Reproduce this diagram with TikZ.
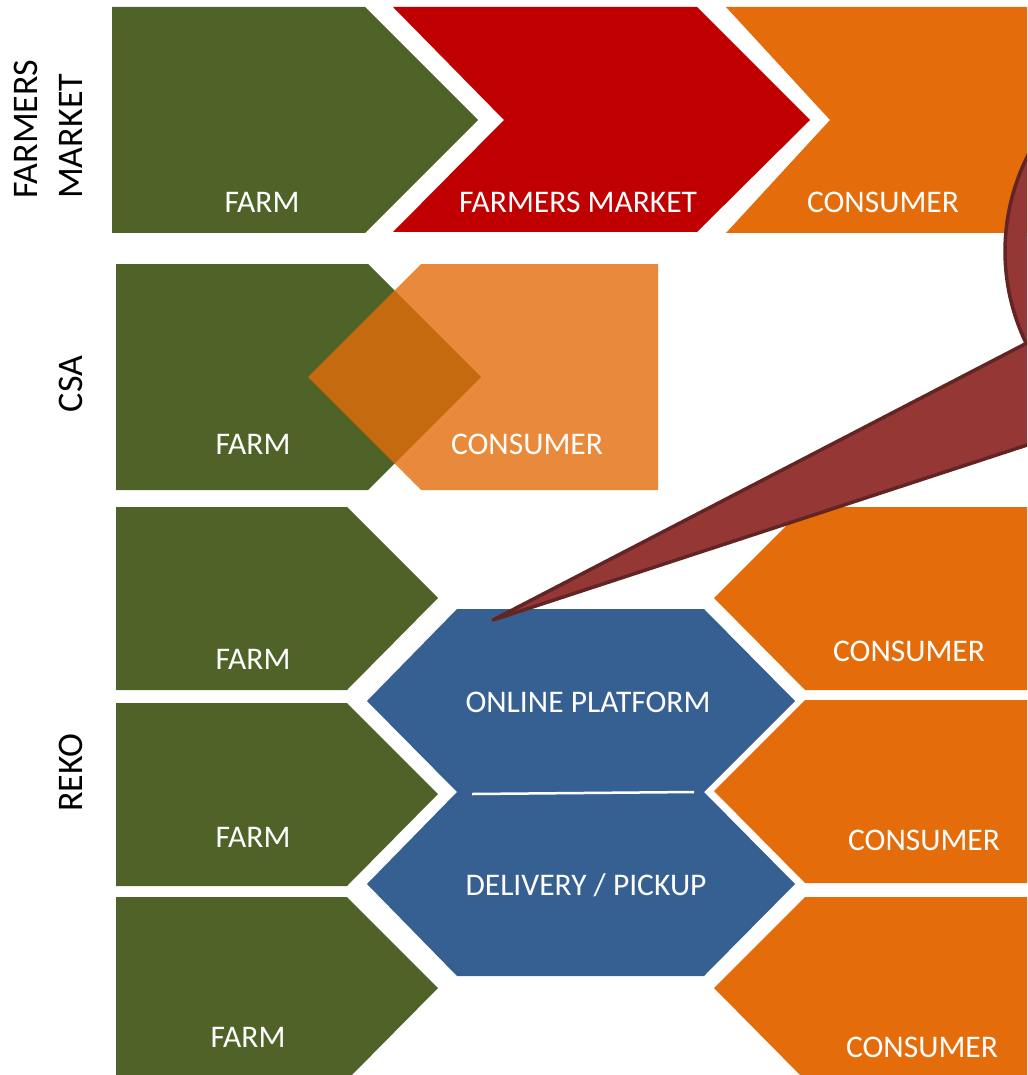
\documentclass[tikz,border=0pt]{standalone}
\usepackage{fontspec}
\setmainfont{Carlito}
\definecolor{farmgreen}{HTML}{4F6228}
\definecolor{marketred}{HTML}{C00000}
\definecolor{consumerorange}{HTML}{E46C0A}
\definecolor{platformblue}{HTML}{376092}
\definecolor{calloutred}{HTML}{953735}
\definecolor{calloutedge}{HTML}{632523}
\tikzset{
farm/.style={fill=farmgreen},
market/.style={fill=marketred},
consumer/.style={fill=consumerorange},
platform/.style={fill=platformblue},
bubble/.style={fill=calloutred,draw=calloutedge,line width=3.5pt,line join=round},
boxtext/.style={text=white,anchor=base,inner sep=0pt,font=\fontsize{31.5}{38}\selectfont},
rowtext/.style={rotate=90,inner sep=0pt,align=left,font=\fontsize{36}{45}\selectfont},
}

\begin{document}
\begin{tikzpicture}[x=1pt,y=1pt]
  \useasboundingbox (0,0) rectangle (1027,-1075);
  \clip (0,0) rectangle (1027,-1075);

  % farmers market row
  \fill[farm] (112,-7) -- (365,-7) -- (478,-120) -- (365,-233) -- (112,-233) -- cycle;
  \fill[market] (393,-7) -- (697,-7) -- (810,-120) -- (697,-232) -- (393,-232) -- (504,-120) -- cycle;
  \fill[consumer] (726,-7) -- (1040,-7) -- (1040,-233) -- (726,-233) -- (830,-120) -- cycle;
  \node[boxtext] (fmfarm) at (262,-213) {FARM};
  \node[boxtext] (fmmarket) at (578,-213) {FARMERS MARKET};
  \node[boxtext] (fmconsumer) at (883,-213) {CONSUMER};

  % csa row
  \fill[farm] (116,-264) -- (368,-264) -- (481,-377) -- (368,-490) -- (116,-490) -- cycle;
  \fill[consumer,fill opacity=0.8] (421,-264) -- (658,-264) -- (658,-490) -- (421,-490) -- (308,-377) -- cycle;
  \node[boxtext] (csafarm) at (253,-454) {FARM};
  \node[boxtext] (csaconsumer) at (527,-454) {CONSUMER};

  % reko rows
  \foreach \y/\n in {507/1,703/2,897/3}{
    \fill[farm] (116,-\y) -- (347,-\y) -- (438,-\y-91) -- (347,-\y-183) -- (116,-\y-183) -- cycle;
  }
  \foreach \y/\n in {507/1,700/2,897/3}{
    \fill[consumer] (805,-\y) -- (1040,-\y) -- (1040,-\y-183) -- (805,-\y-183) -- (714,-\y-91) -- cycle;
  }
  \fill[platform] (457,-609) -- (704,-609) -- (795,-701) -- (704,-792) -- (457,-792) -- (367,-701) -- cycle;
  \fill[platform] (457,-792) -- (704,-792) -- (795,-884) -- (704,-976) -- (457,-976) -- (367,-884) -- cycle;
  \coordinate (splitl) at (472,-794);
  \coordinate (splitr) at (694,-792);
  \draw[white,line width=2.5pt] (splitl) -- (splitr);

  \node[boxtext] (rekofarmA) at (253,-669) {FARM};
  \node[boxtext] (rekofarmB) at (253,-847) {FARM};
  \node[boxtext] (rekofarmC) at (248,-1047) {FARM};
  \node[boxtext] (online) at (588,-712) {ONLINE PLATFORM};
  \node[boxtext] (delivery) at (586,-895) {DELIVERY / PICKUP};
  \node[boxtext] (rekoconsA) at (909,-661) {CONSUMER};
  \node[boxtext] (rekoconsB) at (924,-850) {CONSUMER};
  \node[boxtext] (rekoconsC) at (922,-1057) {CONSUMER};

  % row titles
  \node[rowtext,anchor=north west] (titlefm) at (14,-199) {FARMERS\\MARKET};
  \node[rowtext,anchor=base] (titlecsa) at (82,-384) {CSA};
  \node[rowtext,anchor=base] (titlereko) at (82,-773) {REKO};

  % callout
  \draw[bubble] (493,-620) -- (1026.2,-343.4) arc[start angle=205.8,end angle=-125.7,radius=212] -- cycle;
\end{tikzpicture}
\end{document}
